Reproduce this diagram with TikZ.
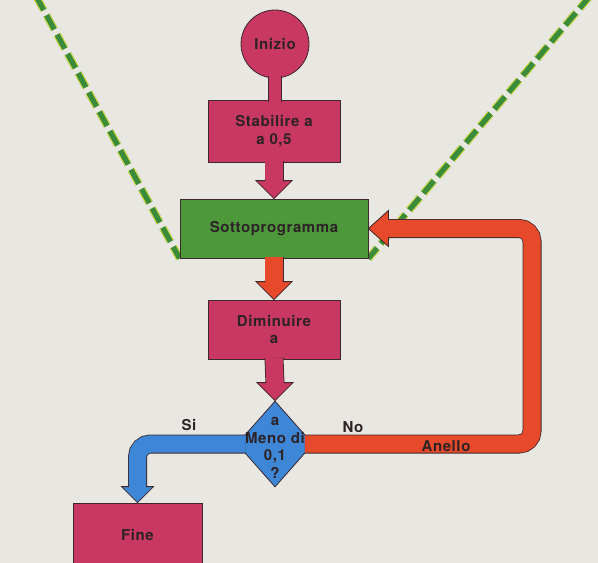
\documentclass[tikz,border=0pt]{standalone}
\usepackage{fontspec}
\setmainfont{TeX Gyre Heros}
\newfontfamily\lblfont[LetterSpace=4]{TeX Gyre Heros}
\usetikzlibrary{shapes.geometric,calc}
\pgfdeclarelayer{bg}
\pgfsetlayers{bg,main}

\definecolor{paper}{RGB}{233,231,225}
\definecolor{pinkf}{RGB}{201,56,98}
\definecolor{greenf}{RGB}{78,152,60}
\definecolor{redf}{RGB}{230,74,42}
\definecolor{bluef}{RGB}{62,134,214}
\definecolor{edge}{RGB}{60,40,45}
\definecolor{ink}{RGB}{45,35,38}
\definecolor{dashg}{RGB}{58,140,58}
\definecolor{dashb}{RGB}{60,135,215}
\definecolor{dashy}{RGB}{235,230,60}

\tikzset{
  txt/.style={text=ink, font=\lblfont\bfseries\fontsize{15}{17.5}\selectfont, align=center, inner sep=0pt},
  box/.style={draw=edge, line width=0.8pt, fill=#1, txt},
  circbox/.style={box=#1, circle, minimum size=68},
  decbox/.style={box=#1, diamond, minimum width=76, minimum height=86},
  band/.style={draw=edge, line width=0.8pt, double=#1, double distance=17.4},
  thinband/.style={draw=edge, line width=0.8pt, double=#1, double distance=12.5},
  dashline/.style={line width=#1, dash pattern=on 16 off 6},
}

\newcommand\headdown[4]{% tip, colour, half width, length
  \filldraw[draw=edge, line width=0.8pt, fill=#2]
    ($(#1)+(-9.1,-#4-1)$) -- ($(#1)+(-9.1,-#4)$) -- ($(#1)+(-#3,-#4)$) -- (#1)
    -- ($(#1)+(#3,-#4)$) -- ($(#1)+(9.1,-#4)$) -- ($(#1)+(9.1,-#4-1)$);}
\newcommand\headleft[4]{% tip, colour, half width, length
  \filldraw[draw=edge, line width=0.8pt, fill=#2]
    ($(#1)+(#4+1,-9.1)$) -- ($(#1)+(#4,-9.1)$) -- ($(#1)+(#4,-#3)$) -- (#1)
    -- ($(#1)+(#4,#3)$) -- ($(#1)+(#4,9.1)$) -- ($(#1)+(#4+1,9.1)$);}

\begin{document}
\begin{tikzpicture}[x=1pt, y=-1pt]
\useasboundingbox (0,0) rectangle (598,563);
\clip (0,0) rectangle (598,563);

% nodes
\node[circbox=pinkf] (inizio) at (275,44) {Inizio};
\node[box=pinkf, minimum width=132, minimum height=62] (stab) at (274,131) {Stabilire a\\a 0,5};
\node[box=greenf, minimum width=188, minimum height=59] (sotto) at (274,228.5) {Sottoprogramma};
\node[box=pinkf, minimum width=132, minimum height=59] (dimin) at (274,329.5) {Diminuire\\a};
\node[decbox=bluef, label={[txt, yshift=-4pt]center:{a\\Meno di\\0,1\\?}}] (dec) at (275,444) {};
\node[box=pinkf, minimum width=129, minimum height=64] (fine) at (137.5,535) {Fine};

% paper and dashed diagonals behind
\coordinate (dL) at (36,-4);
\coordinate (dR) at (590,-4);
\begin{pgfonlayer}{bg}
  \fill[paper] (0,0) rectangle (598,563);
  \foreach \s/\c/\w in {{(-2,-1.5)}/dashb/7.5, {(2,1.5)}/dashy/7.5, {(0,0)}/dashg/5.5} {
    \draw[dashline=\w, draw=\c, shift={\s}] (dL) -- (sotto.south west);
    \draw[dashline=\w, draw=\c, shift={\s}] (dR) -- (sotto.south east);
  }
\end{pgfonlayer}

% connectors
\draw[thinband=pinkf] ($(inizio.south)+(0,-2)$) -- ($(inizio.south |- stab.north)+(0,2)$);

\draw[band=pinkf] ($(stab.south)+(0,-1.5)$) -- ($(sotto.north)+(0,-17)$);
\headdown{sotto.north}{pinkf}{18}{18}

\draw[band=redf] ($(sotto.south)+(0,-1.5)$) -- ($(dimin.north)+(0,-17)$);
\headdown{dimin.north}{redf}{18}{18}

\draw[band=pinkf] ($(dimin.south)+(0,-1.5)$) -- ($(dec.north)+(0,-17)$);
\headdown{dec.north}{pinkf}{18}{18}

\draw[band=bluef, rounded corners=13] ($(dec.west)+(8.5,0)$) -| ($(fine.north)+(0,-15)$);
\headdown{fine.north}{bluef}{16}{16}

\coordinate (loop) at (532,0);
\draw[band=redf, rounded corners=13] ($(dec.east)+(-8.5,0)$) -- (loop |- dec.east)
  -- (loop |- sotto.east) -- ($(sotto.east)+(19,0)$);
\headleft{sotto.east}{redf}{18}{20}

% labels
\node[txt] (si) at (189,425) {Si};
\node[txt] (no) at (353,427) {No};
\node[txt] (anello) at (446,446) {Anello};
\end{tikzpicture}
\end{document}
